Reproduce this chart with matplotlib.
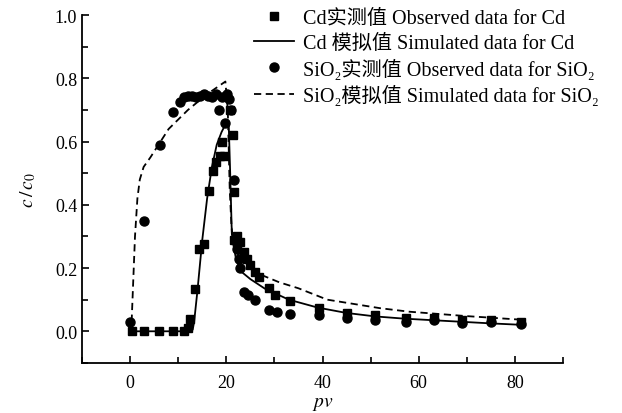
"""Breakthrough curves of Cd and SiO2: observed points and simulated lines."""

import matplotlib
matplotlib.use("Agg")
import matplotlib.pyplot as plt
from matplotlib.ticker import MultipleLocator

plt.rcParams["font.family"] = ["Liberation Serif", "DejaVu Serif", "Noto Sans CJK SC"]
plt.rcParams["mathtext.fontset"] = "stix"

# Cd observed
cd_obs_x = [0.3, 2.9, 5.9, 8.9, 11.1, 12.0, 12.5, 13.5, 14.4, 15.3, 16.3, 17.3,
            17.9, 18.7, 19.1, 19.6, 20.8, 21.4, 21.5, 21.6, 22.2, 22.9, 23.6,
            24.3, 25.0, 26.0, 26.7, 28.8, 30.2, 33.3, 39.2, 45.1, 51.0, 57.3,
            63.2, 69.1, 75.0, 81.3]
cd_obs_y = [0.0, 0.0, 0.0, 0.0, 0.0, 0.01, 0.04, 0.133, 0.26, 0.275, 0.445,
            0.507, 0.537, 0.556, 0.60, 0.556, 0.70, 0.62, 0.44, 0.29, 0.30,
            0.283, 0.25, 0.23, 0.21, 0.188, 0.172, 0.136, 0.115, 0.096, 0.073,
            0.057, 0.05, 0.041, 0.041, 0.036, 0.036, 0.03]

# SiO2 observed
si_obs_x = [0.0, 2.9, 6.2, 9.0, 10.4, 11.2, 12.0, 12.8, 13.6, 14.5, 15.3, 16.2,
            17.0, 17.8, 18.4, 19.0, 19.8, 20.2, 20.6, 21.0, 21.5, 21.9, 22.2,
            22.6, 22.9, 23.6, 24.6, 26.0, 28.8, 30.6, 33.3, 39.2, 45.1, 51.0,
            57.3, 63.2, 69.1, 75.0, 81.3]
si_obs_y = [0.03, 0.35, 0.59, 0.695, 0.725, 0.74, 0.745, 0.745, 0.74, 0.745,
            0.75, 0.745, 0.74, 0.75, 0.70, 0.74, 0.66, 0.75, 0.735, 0.70, 0.48,
            0.29, 0.26, 0.23, 0.20, 0.125, 0.115, 0.10, 0.067, 0.062, 0.055,
            0.05, 0.041, 0.036, 0.03, 0.036, 0.025, 0.03, 0.022]

# Cd simulated
cd_sim_x = [0.0, 12.5, 13.0, 13.3, 14.0, 15.0, 16.0, 17.0, 18.0, 19.0, 20.0,
            20.5, 20.8, 21.1, 21.5, 22.0, 23.0, 25.0, 28.0, 33.0, 39.0, 45.0,
            51.0, 57.0, 63.0, 69.0, 75.0, 82.0]
cd_sim_y = [0.0, 0.0, 0.005, 0.03, 0.13, 0.29, 0.42, 0.52, 0.59, 0.63, 0.66,
            0.65, 0.50, 0.33, 0.27, 0.23, 0.19, 0.165, 0.135, 0.10, 0.075,
            0.058, 0.047, 0.04, 0.035, 0.03, 0.025, 0.02]

# SiO2 simulated
si_sim_x = [0.3, 1.0, 1.5, 2.0, 2.8, 4.2, 8.0, 12.0, 16.0, 19.8, 20.3, 20.7,
            21.2, 22.0, 24.0, 27.0, 31.0, 35.0, 41.0, 52.0, 58.0, 70.0, 82.0]
si_sim_y = [0.03, 0.30, 0.42, 0.48, 0.52, 0.55, 0.64, 0.70, 0.75, 0.79, 0.70,
            0.45, 0.29, 0.25, 0.22, 0.18, 0.155, 0.136, 0.10, 0.073, 0.062,
            0.048, 0.036]

labels = ["Cd实测值 Observed data for Cd",
          "Cd 模拟值 Simulated data for Cd",
          "SiO\u2082实测值 Observed data for SiO\u2082",
          "SiO\u2082模拟值 Simulated data for SiO\u2082"]

fig = plt.figure(figsize=(6.22, 4.14), dpi=100)
ax = fig.add_axes([0.132, 0.121, 0.773, 0.84])

ax.plot(cd_obs_x, cd_obs_y, "s", color="black", ms=6, ls="none", label=labels[0])
ax.plot(cd_sim_x, cd_sim_y, "-", color="black", lw=1.3, label=labels[1])
ax.plot(si_obs_x, si_obs_y, "o", color="black", ms=6.5, ls="none", label=labels[2])
ax.plot(si_sim_x, si_sim_y, "--", color="black", lw=1.3, dashes=(4, 2.5),
        label=labels[3])

ax.set_xlim(-10, 90)
ax.set_ylim(-0.1, 1.0)
ax.xaxis.set_minor_locator(MultipleLocator(10))
ax.yaxis.set_minor_locator(MultipleLocator(0.1))
ax.set_yticks([0.0, 0.2, 0.4, 0.6, 0.8, 1.0])
ax.set_yticklabels(["0.0", "0.2", "0.4", "0.6", "0.8", "1.0"])
ax.set_xticks([0, 20, 40, 60, 80])
ax.tick_params(which="both", direction="in", width=1.2, labelsize=13)
ax.tick_params(which="major", length=5)
ax.tick_params(which="minor", length=4)
ax.tick_params(axis="x", pad=8)
for side in ["top", "right"]:
    ax.spines[side].set_visible(False)
for side in ["left", "bottom"]:
    ax.spines[side].set_linewidth(1.3)

ax.set_xlabel("$pv$", fontsize=14, labelpad=3)
ax.set_ylabel("$c\\,/\\,c_0$", fontsize=14, labelpad=12)

ax.legend(loc="upper left", bbox_to_anchor=(254 / 622, 1 - 10 / 414),
          bbox_transform=fig.transFigure, frameon=False, fontsize=14.5,
          handlelength=2.0, handletextpad=0.45, labelspacing=0.28,
          borderaxespad=0, borderpad=0)

fig.savefig("out.png", dpi=100)
plt.close(fig)
